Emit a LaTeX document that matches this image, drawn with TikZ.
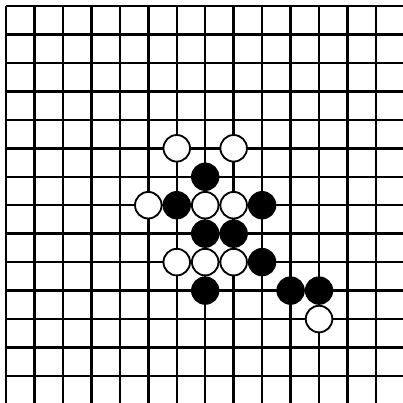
\documentclass[tikz,border=0pt]{standalone}
\usepackage{tikz}

\begin{document}
\begin{tikzpicture}[x=0.6cm, y=0.6cm,
  gridline/.style={line width=1.5pt, black},
  black stone/.style={circle, fill=black, draw=black, line width=0.8pt, minimum size=0.57cm, inner sep=0pt},
  white stone/.style={circle, fill=white, draw=black, line width=1.1pt, minimum size=0.56cm, inner sep=0pt}]
\useasboundingbox (-0.211,0.211) rectangle (13.95,-13.95);
\draw[gridline, step=1] (0,-13.95) grid (13.95,0);
% black stones
\node[black stone] (b76) at (7,-6) {};
\node[black stone] (b67) at (6,-7) {};
\node[black stone] (b97) at (9,-7) {};
\node[black stone] (b78) at (7,-8) {};
\node[black stone] (b88) at (8,-8) {};
\node[black stone] (b99) at (9,-9) {};
\node[black stone] (b710) at (7,-10) {};
\node[black stone] (b1010) at (10,-10) {};
\node[black stone] (b1110) at (11,-10) {};
% white stones
\node[white stone] (w65) at (6,-5) {};
\node[white stone] (w85) at (8,-5) {};
\node[white stone] (w57) at (5,-7) {};
\node[white stone] (w77) at (7,-7) {};
\node[white stone] (w87) at (8,-7) {};
\node[white stone] (w69) at (6,-9) {};
\node[white stone] (w79) at (7,-9) {};
\node[white stone] (w89) at (8,-9) {};
\node[white stone] (w1111) at (11,-11) {};
\end{tikzpicture}
\end{document}
